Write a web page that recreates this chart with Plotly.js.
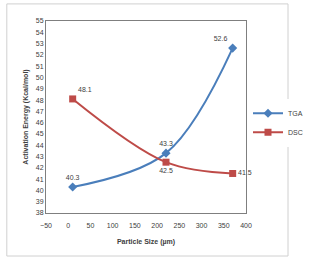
<!DOCTYPE html>
<html><head><meta charset="utf-8">
<script src="https://cdn.plot.ly/plotly-3.0.1.min.js"></script>
<style>html,body{margin:0;padding:0;background:#fff;}#c{width:320px;height:259px;}</style>
</head><body><div id="c"></div>
<script>
const particleSize = [10, 220, 370];
const tgaValues = [40.3, 43.3, 52.6];
const dscValues = [48.1, 42.5, 41.5];
const seriesNames = ["TGA", "DSC"];

const fnt = {family: "Liberation Sans, Arial, sans-serif", size: 7, color: "#404040"};

const traces = [
  {x: particleSize, y: tgaValues, name: seriesNames[0], mode: "lines+markers+text", cliponaxis: false,
   line: {color: "#4A7EBB", width: 2, shape: "spline", smoothing: 1},
   marker: {symbol: "diamond", size: 7, color: "#4A7EBB"},
   text: tgaValues.map(v => v.toFixed(1)), textposition: ["top center", "top center", "top left"],
   textfont: fnt},
  {x: particleSize, y: dscValues, name: seriesNames[1], mode: "lines+markers+text", cliponaxis: false,
   line: {color: "#BE4B48", width: 2, shape: "spline", smoothing: 1},
   marker: {symbol: "square", size: 7, color: "#BE4B48"},
   text: dscValues.map(v => v.toFixed(1)), textposition: ["top right", "bottom center", "middle right"],
   textfont: fnt}
];

const layout = {
  width: 320, height: 259,
  margin: {l: 46, r: 50, t: 21, b: 46},
  paper_bgcolor: "#fff", plot_bgcolor: "#fff",
  font: fnt,
  showlegend: true,
  legend: {x: 1.01, y: 0.47, xanchor: "left", yanchor: "middle", font: {family: fnt.family, size: 7, color: "#404040"}, tracegroupgap: 0, itemwidth: 30},
  xaxis: {range: [-50, 400], dtick: 50, tick0: 0, showgrid: false, zeroline: false,
    showline: true, mirror: true, linecolor: "#7f7f7f", linewidth: 1, ticks: "",
    tickfont: fnt, ticklabelstandoff: 6,
    title: {text: "<b>Particle Size (µm)</b>", font: {family: fnt.family, size: 7, color: "#404040"}, standoff: 10}},
  yaxis: {range: [38, 55], dtick: 1, showgrid: false, zeroline: false,
    showline: true, mirror: true, linecolor: "#7f7f7f", linewidth: 1, ticks: "",
    tickfont: fnt,
    title: {text: "<b>Activation Energy (Kcal/mol)</b>", font: {family: fnt.family, size: 7, color: "#404040"}, standoff: 6}},
  shapes: [{type: "rect", xref: "paper", yref: "paper", x0: -0.196, x1: 1.21, y0: -0.224, y1: 1.089,
    line: {color: "#d0d0d0", width: 1}}]
};

Plotly.newPlot("c", traces, layout, {displayModeBar: false, staticPlot: true});
</script></body></html>
